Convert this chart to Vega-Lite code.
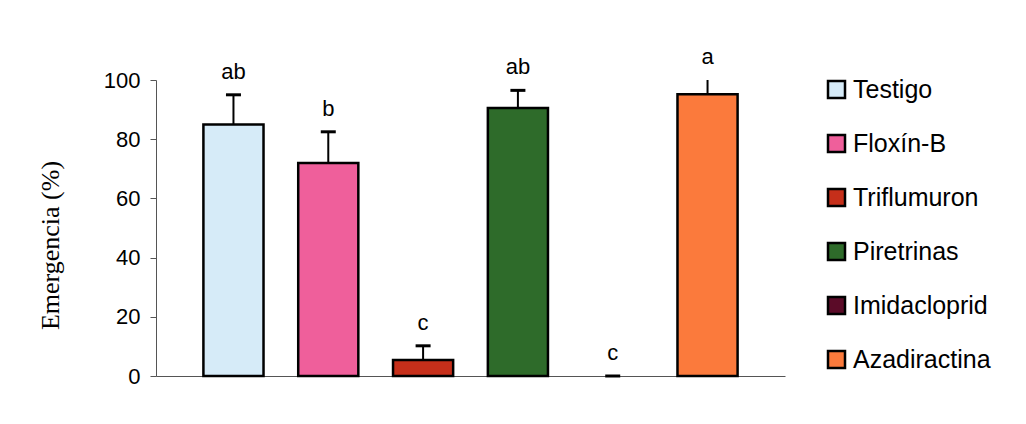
{
  "$schema": "https://vega.github.io/schema/vega-lite/v6.json",
  "width": 629,
  "height": 296,
  "autosize": {"type": "none"},
  "padding": {"left": 156, "top": 80, "right": 241, "bottom": 48},
  "background": "white",
  "config": {
    "view": {"stroke": null},
    "font": "Liberation Sans"
  },
  "data": {
    "values": [
      {"tratamiento": "Testigo", "emergencia": 85, "superior": 95, "letra": "ab"},
      {"tratamiento": "Floxín-B", "emergencia": 72, "superior": 82.5, "letra": "b"},
      {"tratamiento": "Triflumuron", "emergencia": 5.4, "superior": 10.2, "letra": "c"},
      {"tratamiento": "Piretrinas", "emergencia": 90.5, "superior": 96.5, "letra": "ab"},
      {"tratamiento": "Imidacloprid", "emergencia": 0, "superior": 0, "letra": "c"},
      {"tratamiento": "Azadiractina", "emergencia": 95.2, "superior": 100, "letra": "a"}
    ]
  },
  "encoding": {
    "x": {
      "field": "tratamiento",
      "type": "nominal",
      "sort": null,
      "scale": {
        "domain": ["Testigo", "Floxín-B", "Triflumuron", "Piretrinas", "Imidacloprid", "Azadiractina"],
        "paddingInner": 0.366,
        "paddingOuter": 0.5
      },
      "axis": {"title": null, "labels": false, "ticks": false, "domainColor": "#555555", "domainWidth": 1}
    }
  },
  "layer": [
    {
      "transform": [{"filter": "datum.emergencia > 0"}],
      "mark": {"type": "bar", "stroke": "black", "strokeWidth": 2.5},
      "encoding": {
        "y": {
          "field": "emergencia",
          "type": "quantitative",
          "scale": {"domain": [0, 100], "nice": false},
          "axis": {
            "title": "Emergencia (%)",
            "titleFont": "Liberation Serif",
            "titleFontSize": 26,
            "titleFontWeight": "normal",
            "titleColor": "black",
            "titleX": -106,
            "titleY": 165,
            "titleAlign": "center",
            "titleBaseline": "middle",
            "values": [0, 20, 40, 60, 80, 100],
            "grid": false,
            "labelFontSize": 22,
            "labelColor": "black",
            "labelPadding": 10,
            "tickSize": 6,
            "tickColor": "#555555",
            "domainColor": "#555555",
            "domainWidth": 1
          }
        },
        "fill": {
          "field": "tratamiento",
          "type": "nominal",
          "sort": null,
          "scale": {
            "domain": ["Testigo", "Floxín-B", "Triflumuron", "Piretrinas", "Imidacloprid", "Azadiractina"],
            "range": ["#d6ebf8", "#ef5f9b", "#c62f1a", "#2e6b2a", "#5b0b28", "#fb7a3c"]
          },
          "legend": {
            "title": null,
            "orient": "none",
            "legendX": 668,
            "legendY": -3,
            "padding": 0,
            "symbolType": "square",
            "symbolSize": 289,
            "symbolStrokeColor": "black",
            "symbolStrokeWidth": 2.5,
            "symbolOpacity": 1,
            "labelFontSize": 25,
            "labelColor": "black",
            "labelOffset": 4,
            "rowPadding": 27,
            "labelLimit": 300
          }
        }
      }
    },
    {
      "mark": {"type": "rule", "color": "black", "strokeWidth": 2},
      "encoding": {
        "y": {"field": "emergencia", "type": "quantitative"},
        "y2": {"field": "superior"}
      }
    },
    {
      "transform": [{"filter": "datum.superior < 100"}],
      "mark": {"type": "tick", "color": "black", "size": 15, "thickness": 3, "opacity": 1},
      "encoding": {
        "y": {"field": "superior", "type": "quantitative"}
      }
    },
    {
      "mark": {"type": "text", "fontSize": 22, "color": "black", "baseline": "middle", "dy": -23},
      "encoding": {
        "y": {"field": "superior", "type": "quantitative"},
        "text": {"field": "letra"}
      }
    }
  ]
}
